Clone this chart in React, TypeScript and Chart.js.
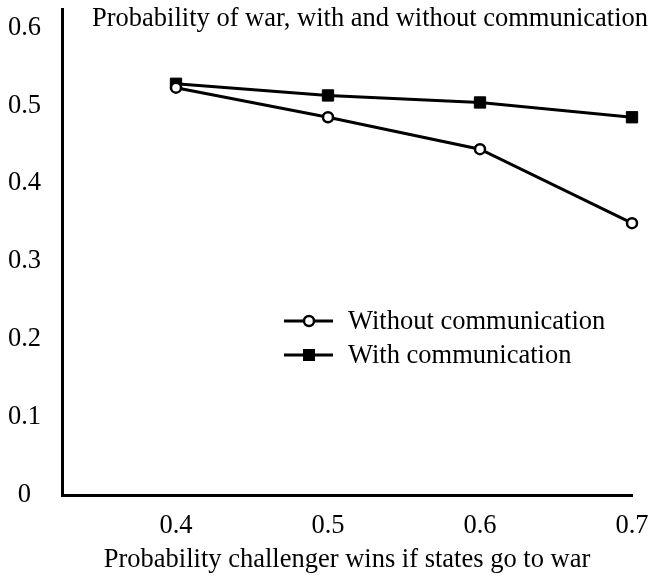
import React, { useEffect, useRef } from "react";
import { Chart, registerables } from "chart.js";

Chart.register(...registerables);

const xValues = [0.4, 0.5, 0.6, 0.7];
const withoutComm = [0.523, 0.485, 0.444, 0.349];
const withComm = [0.528, 0.513, 0.504, 0.485];
const xTicks = [0.4, 0.5, 0.6, 0.7];
const xTickLabels = ["0.4", "0.5", "0.6", "0.7"];
const yTicks = [0, 0.1, 0.2, 0.3, 0.4, 0.5, 0.6];
const yTickLabels = ["0", "0.1", "0.2", "0.3", "0.4", "0.5", "0.6"];
const seriesNames = ["Without communication", "With communication"];
const chartTitle = "Probability of war, with and without communication";
const xTitle = "Probability challenger wins if states go to war";

const FONT = '"Liberation Serif", "Times New Roman", serif';
const FS = 26.5;

const overlayPlugin = {
  id: "overlay",
  afterDraw(chart: any) {
    const ctx = chart.ctx;
    const area = chart.chartArea;
    ctx.save();
    ctx.fillStyle = "#000";
    ctx.font = `${FS}px ${FONT}`;
    ctx.textAlign = "left";
    ctx.textBaseline = "alphabetic";
    ctx.fillText(chartTitle, area.left + 30, 26);

    const rows = [321, 355];
    const lx0 = 284;
    const lx1 = 333;
    const mx = 309;
    rows.forEach((y, i) => {
      ctx.strokeStyle = "#000";
      ctx.lineWidth = 3;
      ctx.beginPath();
      ctx.moveTo(lx0, y);
      ctx.lineTo(lx1, y);
      ctx.stroke();
      if (i === 0) {
        ctx.beginPath();
        ctx.arc(mx, y, 5, 0, Math.PI * 2);
        ctx.fillStyle = "#fff";
        ctx.fill();
        ctx.lineWidth = 2.5;
        ctx.stroke();
      } else {
        ctx.fillStyle = "#000";
        ctx.fillRect(mx - 6, y - 6, 12, 12);
      }
      ctx.fillStyle = "#000";
      ctx.textBaseline = "middle";
      ctx.fillText(seriesNames[i], 348, y + 1);
    });
    ctx.restore();
  },
};

export default function App() {
  const ref = useRef<HTMLCanvasElement>(null);
  useEffect(() => {
    if (!ref.current) return;
    const chart = new Chart(ref.current, {
      type: "line",
      data: {
        datasets: [
          {
            label: seriesNames[0],
            data: xValues.map((x, i) => ({ x, y: withoutComm[i] })),
            borderColor: "#000",
            borderWidth: 3,
            pointStyle: "circle",
            pointRadius: 5,
            pointBackgroundColor: "#fff",
            pointBorderColor: "#000",
            pointBorderWidth: 2.5,
            clip: false,
          },
          {
            label: seriesNames[1],
            data: xValues.map((x, i) => ({ x, y: withComm[i] })),
            borderColor: "#000",
            borderWidth: 3,
            pointStyle: "rect",
            pointRadius: 8,
            pointBackgroundColor: "#000",
            pointBorderColor: "#000",
            pointBorderWidth: 1,
            clip: false,
          },
        ],
      },
      plugins: [overlayPlugin],
      options: {
        animation: false,
        responsive: false,
        events: [],
        layout: { padding: { left: 0, right: 20, top: 8, bottom: 0 } },
        plugins: {
          legend: { display: false },
          tooltip: { enabled: false },
          title: { display: false },
        },
        scales: {
          x: {
            type: "linear",
            min: 0.325,
            max: 0.7,
            afterBuildTicks: (s: any) => {
              s.ticks = xTicks.map((v) => ({ value: v }));
            },
            afterFit: (s: any) => {
              s.height = 81;
              s.paddingLeft = 0;
              s.paddingRight = 0;
            },
            grid: { display: false, drawTicks: false },
            border: { display: true, color: "#000", width: 3 },
            ticks: {
              color: "#000",
              font: { family: FONT, size: FS },
              padding: 15,
              autoSkip: false,
              maxRotation: 0,
              callback: (_v: any, i: number) => xTickLabels[i],
            },
            title: {
              display: true,
              text: xTitle,
              color: "#000",
              font: { family: FONT, size: FS },
              padding: { top: 0, bottom: 0 },
            },
          },
          y: {
            type: "linear",
            min: 0,
            max: 0.624,
            afterBuildTicks: (s: any) => {
              s.ticks = yTicks.map((v) => ({ value: v }));
            },
            afterFit: (s: any) => {
              s.width = 62;
              s.paddingTop = 0;
              s.paddingBottom = 0;
            },
            grid: { display: false, drawTicks: false },
            border: { display: true, color: "#000", width: 3 },
            ticks: {
              color: "#000",
              font: { family: FONT, size: FS },
              padding: 21,
              crossAlign: "center",
              callback: (_v: any, i: number) => yTickLabels[i],
            },
          },
        },
      },
    } as any);
    return () => chart.destroy();
  }, []);
  return (
    <div style={{ position: "absolute", left: 0, top: 0, width: 652, height: 576, background: "#fff" }}>
      <canvas ref={ref} width={652} height={576} style={{ width: 652, height: 576, display: "block" }} />
    </div>
  );
}
